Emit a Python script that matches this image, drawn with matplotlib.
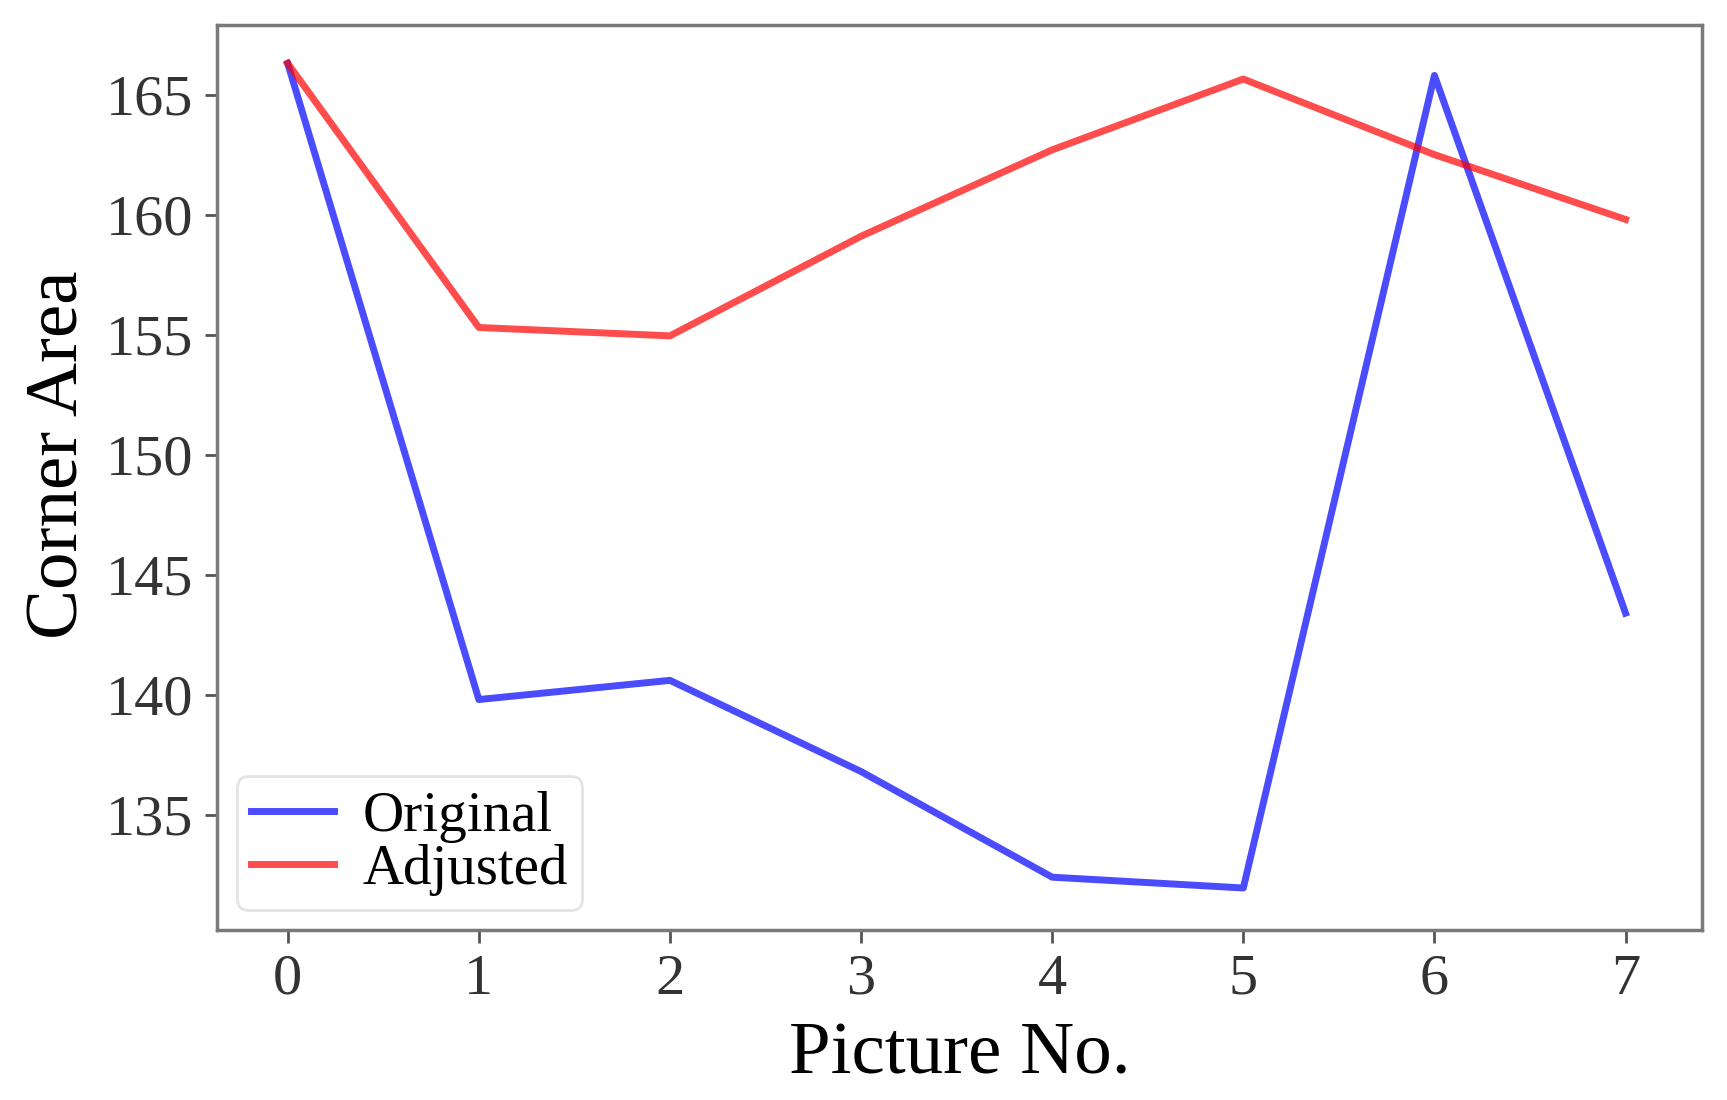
import matplotlib
matplotlib.use("Agg")
import matplotlib.pyplot as plt

# values
picture_no = [0, 1, 2, 3, 4, 5, 6, 7]
original = [166.3, 139.8, 140.6, 136.8, 132.4, 131.95, 165.8, 143.4]
adjusted = [166.3, 155.3, 154.95, 159.1, 162.7, 165.65, 162.5, 159.8]

plt.rcParams['font.family'] = ['Liberation Serif', 'DejaVu Serif']

fig = plt.figure(figsize=(17.27, 11), dpi=100)
ax = fig.add_axes([217 / 1727, 170 / 1100, 1485 / 1727, 905 / 1100])

ax.plot(picture_no, original, color='blue', alpha=0.7, linewidth=5, label='Original')
ax.plot(picture_no, adjusted, color='red', alpha=0.7, linewidth=5, label='Adjusted')

ax.set_xlim(-0.37, 7.4)
ax.set_ylim(130.2, 167.9)
ax.set_yticks([135, 140, 145, 150, 155, 160, 165])
ax.set_xticks(picture_no)

for s in ax.spines.values():
    s.set_color('#7a7a7a')
    s.set_linewidth(2.5)
ax.tick_params(axis='both', labelsize=42, length=9, width=2, color='#555555',
               labelcolor='#333333', pad=8)

ax.set_xlabel('Picture No.', fontsize=54, labelpad=12)
ax.set_ylabel('Corner Area', fontsize=54)
ax.yaxis.set_label_coords(-0.083, 0.525)

leg = ax.legend(loc='lower left', fontsize=41, handlelength=1.45, borderaxespad=0.35,
                labelspacing=0.02, borderpad=0.25, handletextpad=0.5, framealpha=0.8)
leg.get_frame().set_edgecolor('#dddddd')
leg.get_frame().set_linewidth(2)

fig.savefig('out.png', dpi=100)
